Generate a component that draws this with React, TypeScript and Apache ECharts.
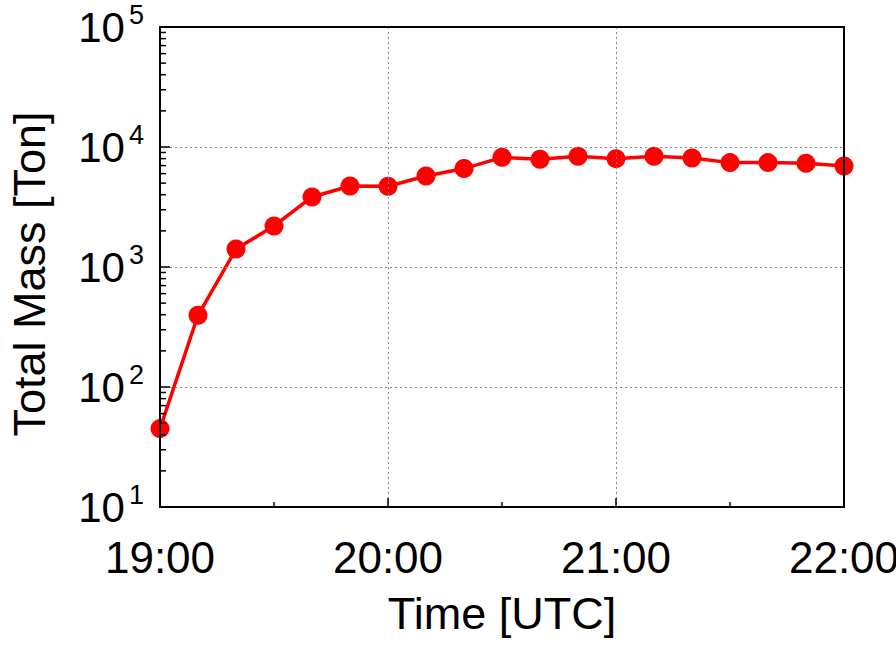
import React, { useEffect, useRef } from "react";
import * as echarts from "echarts";

const times: string[] = [
  "19:00", "19:10", "19:20", "19:30", "19:40", "19:50",
  "20:00", "20:10", "20:20", "20:30", "20:40", "20:50",
  "21:00", "21:10", "21:20", "21:30", "21:40", "21:50", "22:00",
];
const totalMass: number[] = [
  45, 396, 1410, 2200, 3830, 4730,
  4710, 5730, 6610, 8200, 7900, 8360,
  8000, 8360, 8090, 7410, 7410, 7310, 6950,
];
const yMin = 10;
const yMax = 100000;
const xStart = "19:00";
const xEnd = "22:00";
const minorMultipliers: number[] = [2, 3, 4, 5, 6, 7, 8, 9];
const decades: number[] = [10, 100, 1000, 10000];

const toMin = (t: string) => {
  const [h, m] = t.split(":").map(Number);
  return h * 60 + m;
};
const fmtTime = (v: number) => {
  const h = Math.floor(v / 60);
  const m = Math.round(v - h * 60);
  return `${h}:${m < 10 ? "0" + m : m}`;
};

const FONT = "Liberation Sans, Arial, Helvetica, sans-serif";

export default function App() {
  const ref = useRef<HTMLDivElement>(null);
  useEffect(() => {
    if (!ref.current) return;
    const chart = echarts.init(ref.current, undefined, { renderer: "svg" });
    const xMin = toMin(xStart);
    const xMax = toMin(xEnd);
    const lineData = times.map((t, i) => [toMin(t), totalMass[i]]);
    const minorTicks: number[][] = [];
    decades.forEach((d) => minorMultipliers.forEach((k) => minorTicks.push([xMin, d * k])));

    const option: any = {
      animation: false,
      backgroundColor: "#fff",
      grid: { left: 160, right: 52, top: 27, bottom: 141, containLabel: false, outerBoundsMode: "none" },
      xAxis: [
        {
          type: "value",
          min: xMin,
          max: xMax,
          interval: 60,
          name: "Time [UTC]",
          nameLocation: "middle",
          nameGap: 84,
          nameTextStyle: { fontSize: 45, color: "#000", fontFamily: FONT },
          axisLine: { show: true, lineStyle: { color: "#000", width: 2 } },
          axisTick: { show: true, inside: true, length: 9, lineStyle: { color: "#000", width: 1.5 } },
          minorTick: { show: true, splitNumber: 2, length: 5, lineStyle: { color: "#000", width: 1.5 } },
          axisLabel: {
            formatter: (v: number) => fmtTime(v),
            fontSize: 44,
            color: "#000",
            fontFamily: FONT,
            margin: 28,
            showMinLabel: true,
            showMaxLabel: true,
            hideOverlap: false,
          },
          splitLine: { show: true, lineStyle: { color: "#888", width: 1, type: [2, 3] } },
          z: 5,
        },
        {
          type: "value",
          position: "top",
          min: xMin,
          max: xMax,
          interval: 60,
          axisLine: { show: true, lineStyle: { color: "#000", width: 2 } },
          axisTick: { show: false },
          axisLabel: { show: false },
          splitLine: { show: false },
          z: 5,
        },
      ],
      yAxis: [
        {
          type: "log",
          logBase: 10,
          min: yMin,
          max: yMax,
          name: "Total Mass [Ton]",
          nameLocation: "middle",
          nameGap: 108,
          nameRotate: 90,
          nameTextStyle: { fontSize: 45, color: "#000", fontFamily: FONT, padding: [0, 14, 0, 0] },
          axisLine: { show: true, lineStyle: { color: "#000", width: 2 } },
          axisTick: { show: true, inside: true, length: 10, lineStyle: { color: "#000", width: 1.5 } },
          axisLabel: {
            margin: 16,
            formatter: (v: number) => `{b|10}{s|${Math.round(Math.log10(v))}}`,
            rich: {
              b: { fontSize: 42, lineHeight: 42, color: "#000", fontFamily: FONT },
              s: { fontSize: 27, lineHeight: 27, color: "#000", fontFamily: FONT, padding: [0, 0, 25, 4] },
            },
          },
          splitLine: { show: true, lineStyle: { color: "#888", width: 1, type: [2, 3] } },
          z: 5,
        },
        {
          type: "log",
          logBase: 10,
          position: "right",
          min: yMin,
          max: yMax,
          axisLine: { show: true, lineStyle: { color: "#000", width: 2 } },
          axisTick: { show: false },
          axisLabel: { show: false },
          splitLine: { show: false },
          z: 5,
        },
      ],
      series: [
        {
          type: "line",
          data: lineData,
          xAxisIndex: 0,
          yAxisIndex: 0,
          symbol: "circle",
          symbolSize: 19,
          lineStyle: { color: "#ff0000", width: 3.5 },
          itemStyle: { color: "#ff0000" },
          z: 3,
        },
        {
          type: "custom",
          xAxisIndex: 0,
          yAxisIndex: 0,
          silent: true,
          clip: false,
          data: minorTicks,
          renderItem: (params: any, api: any) => {
            const p = api.coord([api.value(0), api.value(1)]);
            return {
              type: "line",
              shape: { x1: p[0], y1: p[1], x2: p[0] + 6, y2: p[1] },
              style: { stroke: "#000", lineWidth: 1.5 },
            };
          },
          z: 6,
        },
      ],
    };
    chart.setOption(option);
    return () => chart.dispose();
  }, []);
  return (
    <div
      ref={ref}
      style={{ position: "fixed", left: 0, top: 0, width: 896, height: 648, background: "#fff" }}
    />
  );
}
